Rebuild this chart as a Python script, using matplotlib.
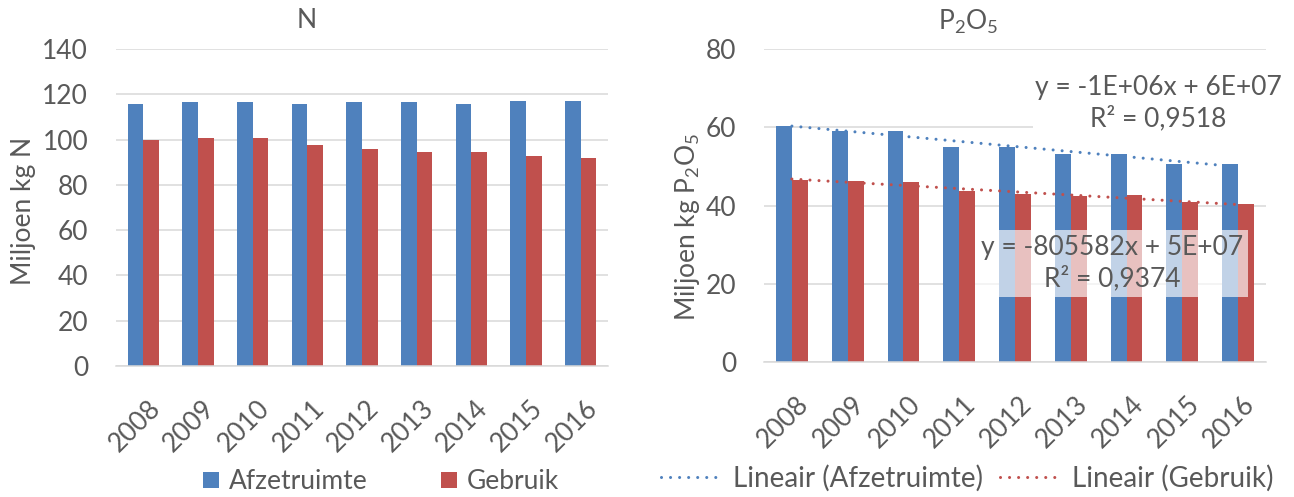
import numpy as np
import matplotlib
matplotlib.use('Agg')
import matplotlib.pyplot as plt
from matplotlib.transforms import ScaledTranslation
from matplotlib.lines import Line2D
from matplotlib.patches import Patch

plt.rcParams['font.family'] = ['Lato', 'DejaVu Sans']
plt.rcParams['mathtext.fontset'] = 'custom'
plt.rcParams['mathtext.rm'] = 'Lato'

# ---------------- data ----------------
years = ['2008', '2009', '2010', '2011', '2012', '2013', '2014', '2015', '2016']
n_afzetruimte = [115.9, 116.5, 116.6, 115.9, 116.6, 116.6, 115.9, 117.1, 117.1]
n_gebruik = [99.7, 100.9, 100.9, 97.7, 95.7, 94.7, 94.7, 92.6, 92.0]
p_afzetruimte = [60.4, 59.0, 59.0, 55.0, 55.0, 53.1, 53.1, 50.6, 50.6]
p_gebruik = [46.6, 46.2, 45.9, 43.7, 42.9, 42.4, 42.6, 40.8, 40.4]
n_yticks = [0, 20, 40, 60, 80, 100, 120, 140]
p_yticks = [0, 20, 40, 60, 80]
series_names = ['Afzetruimte', 'Gebruik']
trend_names = ['Lineair (Afzetruimte)', 'Lineair (Gebruik)']
eq_afzet = 'y = -1E+06x + 6E+07\nR² = 0,9518'
eq_gebruik = 'y = -805582x + 5E+07\nR² = 0,9374'

BLUE = '#4F81BD'
RED = '#C0504D'
TXT = '#595959'
GRID = '#D9D9D9'
FS = 19
EQFS = 19

W, H = 1294, 497
fig = plt.figure(figsize=(W / 100, H / 100), dpi=100)


def px_axes(x0, x1, ytop, ybot):
    return fig.add_axes([x0 / W, 1 - ybot / H, (x1 - x0) / W, (ybot - ytop) / H])


def style_axes(ax, yticks):
    x = np.arange(len(years))
    ax.set_xlim(-0.5, len(years) - 0.5)
    ax.set_ylim(yticks[0], yticks[-1])
    ax.set_yticks(yticks)
    ax.set_xticks(x)
    ax.set_xticklabels([])
    ax.tick_params(axis='x', length=0)
    ax.tick_params(axis='y', length=0, pad=20, labelsize=FS, labelcolor=TXT)
    ax.set_axisbelow(True)
    ax.yaxis.grid(True, color=GRID, lw=1.1)
    for s in ['top', 'right', 'left']:
        ax.spines[s].set_visible(False)
    ax.spines['bottom'].set_color(GRID)
    ax.spines['bottom'].set_linewidth(1.1)
    off = ScaledTranslation(4 / 100, -30 / 100, fig.dpi_scale_trans)
    for i, yr in enumerate(years):
        ax.text(i, 0, yr, transform=ax.get_xaxis_transform() + off,
                rotation=45, rotation_mode='anchor', ha='right', va='top',
                fontsize=FS, color=TXT)


bw = 0.285
x = np.arange(len(years))

# ---------------- left: N ----------------
ax1 = px_axes(116, 608, 49, 366)
ax1.bar(x - bw / 2, n_afzetruimte, bw, color=BLUE, linewidth=0)
ax1.bar(x + bw / 2, n_gebruik, bw, color=RED, linewidth=0)
style_axes(ax1, n_yticks)

# ---------------- right: P2O5 ----------------
ax2 = px_axes(764, 1266, 49, 362)
ax2.bar(x - bw / 2, p_afzetruimte, bw, color=BLUE, linewidth=0)
ax2.bar(x + bw / 2, p_gebruik, bw, color=RED, linewidth=0)
style_axes(ax2, p_yticks)

dot = dict(linestyle=(0, (0.01, 2.95)), dash_capstyle='round', lw=2.2)
xt = np.arange(1, len(years) + 1)
for vals, col in [(p_afzetruimte, BLUE), (p_gebruik, RED)]:
    k, b = np.polyfit(xt, vals, 1)
    ax2.plot(x, k * xt + b, color=col, zorder=3, **dot)

ax2.text(0.785, 0.827, eq_afzet, transform=ax2.transAxes, ha='center', va='center',
         multialignment='center', fontsize=EQFS, color=TXT, linespacing=1.25, zorder=5,
         bbox=dict(facecolor='white', edgecolor='none', pad=1))
ax2.text(0.693, 0.315, eq_gebruik, transform=ax2.transAxes, ha='center', va='center',
         multialignment='center', fontsize=EQFS, color=TXT, linespacing=1.25, zorder=5,
         bbox=dict(facecolor='white', alpha=0.65, edgecolor='none', pad=4))

# ---------------- titles & labels ----------------
fig.text(307 / W, 1 - 20.5 / H, 'N', ha='center', va='center', fontsize=FS, color=TXT)
fig.text(968 / W, 1 - 21.5 / H, r'P$_\mathregular{2}$O$_\mathregular{5}$',
         ha='center', va='center', fontsize=FS, color=TXT)
fig.text(24 / W, 1 - 210.5 / H, 'Miljoen kg N', rotation=90, ha='center', va='center',
         fontsize=FS, color=TXT)
fig.text(687 / W, 1 - 227 / H, r'Miljoen kg P$_\mathregular{2}$O$_\mathregular{5}$',
         rotation=90, ha='center', va='center', fontsize=FS, color=TXT)

# ---------------- legends ----------------
h1 = [Patch(facecolor=BLUE, edgecolor='none'), Patch(facecolor=RED, edgecolor='none')]
fig.legend(h1, series_names, loc='center', bbox_to_anchor=(381 / W, 1 - 481.7 / H),
           ncol=2, frameon=False, fontsize=FS, labelcolor=TXT,
           handlelength=0.6, handleheight=0.6, handletextpad=0.35, columnspacing=2.8,
           borderpad=0, borderaxespad=0)

h2 = [Line2D([], [], color=BLUE, **dot), Line2D([], [], color=RED, **dot)]
fig.legend(h2, trend_names, loc='center', bbox_to_anchor=(967 / W, 1 - 478 / H),
           ncol=2, frameon=False, fontsize=20, labelcolor=TXT,
           handlelength=2.05, handletextpad=0.55, columnspacing=0.6,
           borderpad=0, borderaxespad=0)

fig.savefig('out.png', dpi=100)
